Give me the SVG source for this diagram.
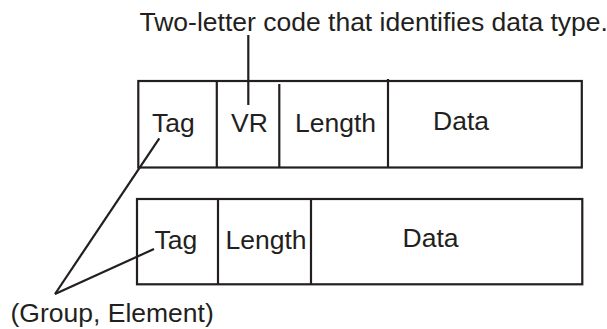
<svg xmlns="http://www.w3.org/2000/svg" width="607" height="329" viewBox="0 0 607 329">
<style>
.t{font-family:"Liberation Sans",Arial,Helvetica,sans-serif;font-size:26.5px;fill:#231f20}
.s{fill:none;stroke:#231f20;stroke-width:2.2}
</style>
<rect width="607" height="329" fill="#fff"/>
<g id="title"><text class="t" x="139.5" y="31">Two-letter code that identifies data type.</text></g>
<g id="element-explicit">
<rect class="s" x="138.3" y="81" width="443.5" height="86.5"/>
<line class="s" x1="216.8" y1="81" x2="216.8" y2="167.5"/>
<line class="s" x1="279.3" y1="84" x2="279.3" y2="168"/>
<line class="s" x1="388" y1="79" x2="388" y2="167.5"/>
<text class="t" x="152" y="132.3">Tag</text>
<text class="t" x="231" y="132.3">VR</text>
<text class="t" x="295" y="132.3">Length</text>
<text class="t" x="433" y="130">Data</text>
</g>
<g id="element-implicit">
<rect class="s" x="137" y="199" width="445.3" height="85.3"/>
<line class="s" x1="218" y1="199" x2="218" y2="284.3"/>
<line class="s" x1="311" y1="199" x2="311" y2="284.3"/>
<text class="t" x="154.5" y="249.2">Tag</text>
<text class="t" x="225.5" y="248.5">Length</text>
<text class="t" x="402.5" y="246.8">Data</text>
</g>
<g id="group-element"><text class="t" x="10.5" y="322">(Group, Element)</text></g>
<g id="connectors">
<line class="s" x1="248.3" y1="35" x2="248.3" y2="105"/>
<line class="s" x1="55" y1="294" x2="159.3" y2="138.3"/>
<line class="s" x1="55" y1="294" x2="154" y2="249"/>
</g>
</svg>
